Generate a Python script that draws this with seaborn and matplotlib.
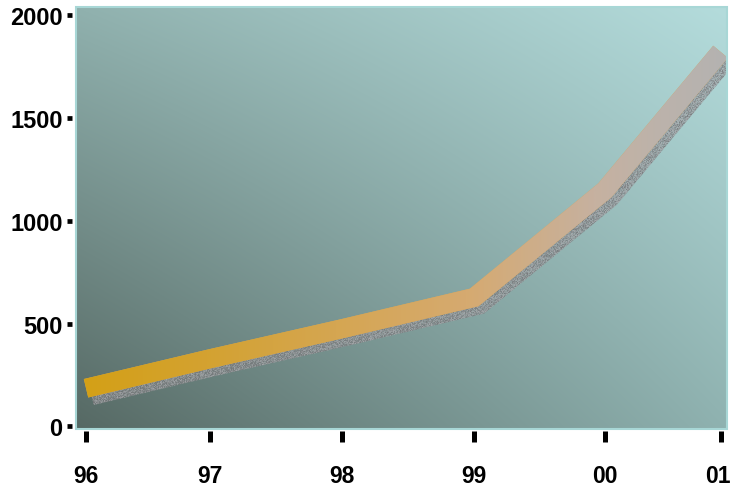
import numpy as np
import pandas as pd
import matplotlib
matplotlib.use("Agg")
import matplotlib.pyplot as plt
import seaborn as sns
import matplotlib.transforms as mtransforms
from matplotlib.patches import Polygon, Rectangle
from matplotlib.colors import LinearSegmentedColormap, to_rgb

# Yearly values
years = ["96", "97", "98", "99", "00", "01"]
values = [186, 330, 476, 628, 1150, 1823]
y_ticks = [0, 500, 1000, 1500, 2000]

# Where each year sits along the x axis (the year slots are not evenly spaced)
year_slots = [0.0, 0.980, 2.019, 3.059, 4.090, 5.0]

sns.set_theme(style="white")
plt.rcParams["font.family"] = ["Liberation Sans", "DejaVu Sans"]

W, H, DPI = 731, 489, 100
fig = plt.figure(figsize=(W / DPI, H / DPI), dpi=DPI)
fig.patch.set_facecolor("white")
L, R, T, B = 76, 727, 8, 430
ax = fig.add_axes([L / W, 1 - B / H, (R - L) / W, (B - T) / H])

xlim = (-0.079, 5.051)
ylim = (-12.2, 2041.0)
ax.set_xlim(*xlim)
ax.set_ylim(*ylim)

band_px = 19.0  # stroke width of the band in pixels
df = pd.DataFrame({"slot": year_slots, "value": values})
sns.lineplot(data=df, x="slot", y="value", ax=ax, color="#d2a75a",
             linewidth=band_px * 72 / DPI, solid_capstyle="butt",
             solid_joinstyle="miter", zorder=3, legend=False)
ax.set_xlim(*xlim)
ax.set_ylim(*ylim)

# ---- diagonal background gradient (dark lower-left to pale upper-right)
bl, tl = np.array(to_rgb("#566964")), np.array(to_rgb("#90b1ae"))
br, tr = np.array(to_rgb("#8fb2b0")), np.array(to_rgb("#b4dcdc"))
u = np.linspace(0, 1, 200)[None, :, None]
v = np.linspace(0, 1, 200)[:, None, None]
bg = (bl * (1 - u) * (1 - v) + br * u * (1 - v) + tl * (1 - u) * v + tr * u * v)
ax.imshow(bg, extent=[*xlim, *ylim], origin="lower", aspect="auto",
          interpolation="bilinear", zorder=0)


def stroke_outline(p, half):
    d = np.diff(p, axis=0)
    d /= np.linalg.norm(d, axis=1)[:, None]
    n = np.column_stack([-d[:, 1], d[:, 0]])
    offs = [n[0] * half]
    for i in range(1, len(p) - 1):
        m = n[i - 1] + n[i]
        m /= np.linalg.norm(m)
        offs.append(m * half / np.dot(m, n[i]))
    offs.append(n[-1] * half)
    offs = np.array(offs)
    return np.vstack([p + offs, (p - offs)[::-1]])


pts = ax.transData.transform(np.column_stack([year_slots, values]))
outline = stroke_outline(pts, band_px / 2)
inv = ax.transData.inverted()
band_poly = Polygon(inv.transform(outline), closed=True, transform=ax.transData,
                    facecolor="none", edgecolor="none")
shadow_poly = Polygon(inv.transform(outline + np.array([5.5, -7.5])), closed=True,
                      transform=ax.transData, facecolor="none", edgecolor="none")
ax.add_patch(band_poly)
ax.add_patch(shadow_poly)

# ---- grainy drop shadow
px_w, px_h = (R - L) + 8, (B - T)
rng = np.random.default_rng(7)
g = rng.uniform(0.47, 0.66, size=(px_h, px_w))
shadow_img = np.dstack([g, g, g * 1.02, rng.uniform(0.6, 0.95, size=(px_h, px_w))])
shadow_img = np.clip(shadow_img, 0, 1)
x_extra = inv.transform([[R + 8, 0]])[0, 0]
im_s = ax.imshow(shadow_img, extent=[xlim[0], x_extra, *ylim], origin="lower",
                 aspect="auto", interpolation="nearest", zorder=2)
im_s.set_clip_path(shadow_poly)
im_s.set_clip_box(None)

# ---- band coloured from gold to grey along its length
band_cmap = LinearSegmentedColormap.from_list(
    "band", [(0.0, "#d4a015"), (0.2, "#d3a231"), (0.4, "#d5a652"),
             (0.6, "#d6aa70"), (0.8, "#c6b1a0"), (0.9, "#bcb3ab"), (1.0, "#b4b2b1")])
grad = np.linspace(0, 1, 400)[None, :]
im_b = ax.imshow(grad, cmap=band_cmap, extent=[*xlim, *ylim], origin="lower",
                 aspect="auto", interpolation="bilinear", zorder=4)
im_b.set_clip_path(band_poly)

ax.set_xlim(*xlim)
ax.set_ylim(*ylim)

# ---- frame and ticks
ax.add_patch(Rectangle((0, 0), 1, 1, transform=ax.transAxes, fill=False,
                       edgecolor="#a8d7d6", linewidth=1.5, zorder=6, clip_on=False))
for side in ["top", "right", "left", "bottom"]:
    ax.spines[side].set_visible(False)
ax.spines["left"].set_position(("outward", 3.2))
ax.spines["bottom"].set_position(("outward", 1.5))

ax.set_xticks(year_slots)
ax.set_xticklabels(years)
ax.set_yticks(y_ticks)
ax.set_yticklabels([str(t) for t in y_ticks])
ax.set_xlabel("")
ax.set_ylabel("")
ax.grid(False)
ax.tick_params(axis="y", direction="out", length=3.5, width=3.4, color="black",
               pad=3.0, labelsize=17, left=True)
ax.tick_params(axis="x", direction="out", length=8.0, width=3.6, color="black",
               pad=15.5, labelsize=16.5, bottom=True)
for lab in ax.get_xticklabels() + ax.get_yticklabels():
    lab.set_fontweight("bold")
    lab.set_color("black")

# keep the last year label inside the figure edge
last = ax.get_xticklabels()[-1]
last.set_transform(last.get_transform() +
                   mtransforms.ScaledTranslation(-3 / DPI, 0, fig.dpi_scale_trans))

fig.savefig("out.png", dpi=DPI, facecolor="white")
